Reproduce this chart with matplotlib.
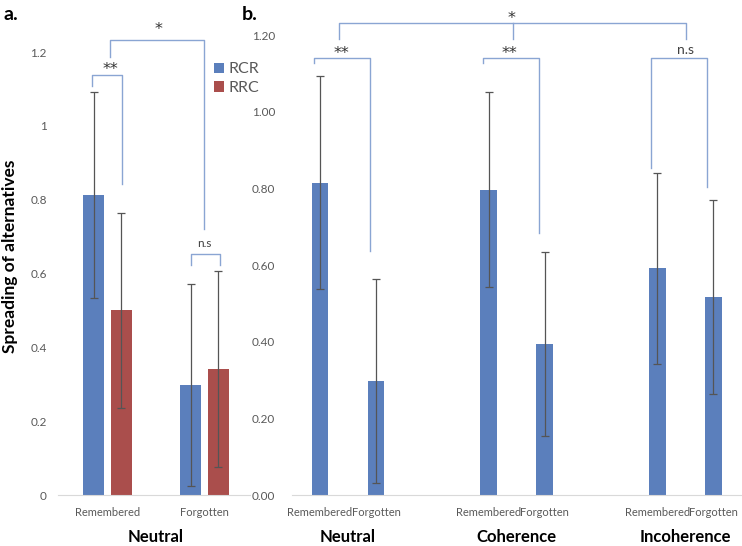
import numpy as np
import matplotlib.pyplot as plt
import warnings

warnings.filterwarnings("ignore")
plt.rcParams['font.family'] = ['Lato', 'DejaVu Sans']

# panel a data
a_groups = ['Remembered', 'Forgotten']
a_rcr = [0.814, 0.298]
a_rcr_err = [0.279, 0.273]
a_rrc = [0.500, 0.341]
a_rrc_err = [0.265, 0.265]

# panel b data
b_conditions = ['Neutral', 'Coherence', 'Incoherence']
b_labels = ['Remembered', 'Forgotten']
b_remembered = [0.815, 0.797, 0.591]
b_remembered_err = [0.278, 0.254, 0.248]
b_forgotten = [0.297, 0.395, 0.517]
b_forgotten_err = [0.266, 0.240, 0.253]

blue = '#5b7fbc'
red = '#aa4e4c'
brk = '#8aa5d3'
grey_txt = '#595959'
err_kw = dict(ecolor='#555555', elinewidth=0.9, capsize=3, capthick=0.9)
star_kw = dict(ha='center', va='baseline', fontsize=11.5, color='#333333', family='DejaVu Sans')

fig = plt.figure(figsize=(7.42, 5.46), dpi=100)


def style(ax):
    for s in ['top', 'right', 'left']:
        ax.spines[s].set_visible(False)
    ax.spines['bottom'].set_color('#d9d9d9')
    ax.tick_params(length=0, colors=grey_txt, labelsize=8.5)
    ax.tick_params(axis='x', pad=9, labelsize=8)


def bracket(ax, x1, x2, y, d1, d2):
    ax.plot([x1, x1, x2, x2], [d1, y, y, d2], color=brk, lw=1, clip_on=False)


# ---- panel a ----
ax1 = fig.add_axes([58 / 742, 1 - 495 / 546, 192 / 742, 487.2 / 546])
x = np.arange(len(a_groups))
off, w = 0.143, 0.216
ax1.bar(x - off, a_rcr, w, color=blue, yerr=a_rcr_err, error_kw=err_kw, label='RCR')
ax1.bar(x + off, a_rrc, w, color=red, yerr=a_rrc_err, error_kw=err_kw, label='RRC')
ax1.set_xlim(-0.51, 1.47)
ax1.set_ylim(0, 1.32)
ax1.set_yticks([0, 0.2, 0.4, 0.6, 0.8, 1.0, 1.2])
ax1.set_yticklabels(['0', '0.2', '0.4', '0.6', '0.8', '1', '1.2'])
ax1.set_xticks(x)
ax1.set_xticklabels(a_groups)
ax1.tick_params(axis='y', pad=8)
style(ax1)

bracket(ax1, x[0] - off - 0.016, x[0] + off + 0.008, 1.137, 1.107, 0.842)
ax1.text(x[0] + 0.033, 1.141, '**', **star_kw)
bracket(ax1, x[1] - off + 0.003, x[1] + off + 0.022, 0.652, 0.624, 0.624)
ax1.text(x[1], 0.672, 'n.s', ha='center', va='baseline', fontsize=8.5, color='#404040')
bracket(ax1, x[0] + 0.025, x[1] - 0.003, 1.232, 1.187, 0.722)
ax1.text(0.525, 1.2485, '*', **star_kw)

ax1.legend(loc='upper left', bbox_to_anchor=(0.8125, 0.888), frameon=False,
           handlelength=0.6, handleheight=0.6, handletextpad=0.3, labelspacing=0.3,
           fontsize=11.5, labelcolor=grey_txt, borderaxespad=0, borderpad=0)
ax1.annotate('Neutral', xy=(0.5, 0), xycoords=ax1.get_xaxis_transform(),
             xytext=(0, -42), textcoords='offset pixels', ha='center', va='center',
             fontsize=12, fontweight='bold', annotation_clip=False)

# ---- panel b ----
ax2 = fig.add_axes([292 / 742, 1 - 495 / 546, 450 / 742, 490.6 / 546])
xb = np.arange(len(b_conditions))
off_b, wb = 0.166, 0.1
ax2.bar(xb - off_b, b_remembered, wb, color=blue, yerr=b_remembered_err, error_kw=err_kw)
ax2.bar(xb + off_b, b_forgotten, wb, color=blue, yerr=b_forgotten_err, error_kw=err_kw)
ax2.set_xlim(-0.332, 2.337)
ax2.set_ylim(0, 1.28)
ax2.set_yticks(np.arange(0, 1.21, 0.2))
ax2.set_yticklabels(['%.2f' % v for v in np.arange(0, 1.21, 0.2)])
ticks = np.concatenate([xb - off_b, xb + off_b])
ax2.set_xticks(ticks)
ax2.set_xticklabels([b_labels[0]] * 3 + [b_labels[1]] * 3)
ax2.tick_params(axis='y', pad=12)
style(ax2)

b_right = [0.637, 0.683, 0.804]
b_left = [1.127, 1.127, 0.853]
b_txt = ['**', '**', 'n.s']
for i in range(len(b_conditions)):
    bracket(ax2, xb[i] - off_b - 0.034, xb[i] + off_b - 0.034, 1.141, b_left[i], b_right[i])
    if b_txt[i] == 'n.s':
        ax2.text(xb[i], 1.150, b_txt[i], ha='center', va='baseline', fontsize=10, color='#404040')
    else:
        ax2.text(xb[i] - 0.04, 1.141, b_txt[i], **star_kw)
ax2.plot([xb[0] - 0.052, xb[0] - 0.052, xb[2] + 0.003, xb[2] + 0.003], [1.189, 1.231, 1.231, 1.189],
         color=brk, lw=1, clip_on=False)
ax2.plot([xb[1] - 0.023, xb[1] - 0.023], [1.189, 1.231], color=brk, lw=1, clip_on=False)
ax2.text(xb[1] - 0.03, 1.231, '*', **star_kw)
for i, c in enumerate(b_conditions):
    ax2.annotate(c, xy=(xb[i], 0), xycoords=ax2.get_xaxis_transform(),
                 xytext=(0, -42), textcoords='offset pixels', ha='center', va='center',
                 fontsize=12, fontweight='bold', annotation_clip=False)

fig.text(10 / 742, 1 - 256 / 546, 'Spreading of alternatives', rotation=90, ha='center',
         va='center', fontsize=12.5, fontweight='bold')
fig.text(4 / 742, 1 - 14 / 546, 'a.', ha='left', va='center', fontsize=14, fontweight='bold')
fig.text(242 / 742, 1 - 14 / 546, 'b.', ha='left', va='center', fontsize=14, fontweight='bold')

fig.savefig('out.png', dpi=100)
